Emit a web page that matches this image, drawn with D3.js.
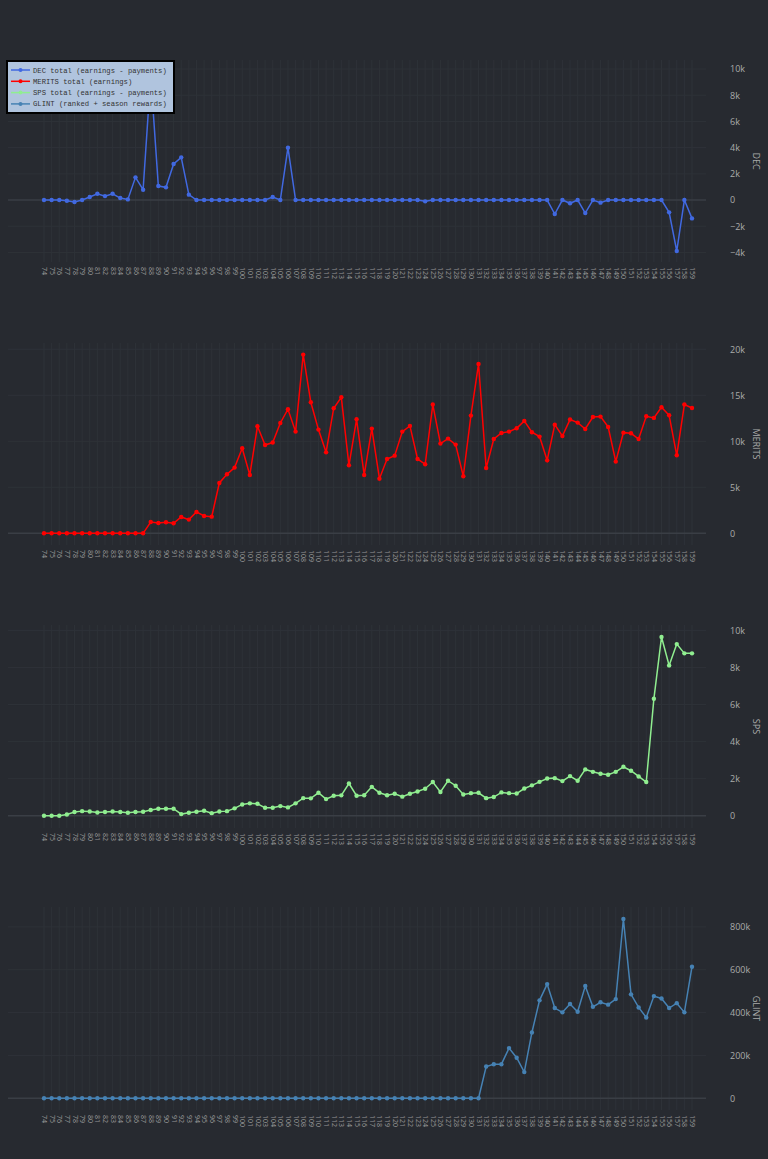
<html>
<head>
<script src="https://d3js.org/d3.v7.min.js"></script>
<style>
body { margin: 0; padding: 0; background: #272a30; }
svg { display: block; background: #272a30; }
.tick text { fill: #aaa; font-family: 'Open Sans', sans-serif; font-size: 9px; }
.xax .tick text { font-size: 7px; fill: #999; }
</style>
</head>
<body>
<script>
var seasons = d3.range(74, 160);

var decValues = [0,0,0,-50,-150,0,230,480,300,480,150,50,1730,790,9500,1070,970,2750,3260,410,
  0,0,0,0,0,0,0,0,0,0,230,0,4000,0,0,0,0,0,0,0,
  0,0,0,0,0,0,0,0,0,0,-100,0,0,0,0,0,0,0,0,0,
  0,0,0,0,0,0,0,-1070,0,-250,0,-990,0,-200,0,0,0,0,0,0,
  0,0,-940,-3890,0,-1400];

var meritsValues = [0,0,0,0,0,0,0,0,0,0,0,0,0,0,1230,1120,1200,1090,1780,1490,
  2320,1880,1810,5470,6410,7140,9240,6340,11630,9600,9860,11990,13480,11050,19420,14240,11270,8800,13590,14780,
  7390,12390,6340,11380,5940,8080,8440,11050,11670,8080,7500,13990,9750,10290,9640,6200,12790,18400,7100,10250,
  10900,11050,11410,12210,10980,10510,7930,11810,10580,12360,12030,11340,12640,12680,11560,7790,10940,10870,10250,12720,
  12540,13700,12830,8480,13990,13620];

var spsValues = [0,0,0,70,200,250,230,180,200,230,200,160,200,220,310,380,380,380,90,160,
  220,270,140,230,250,400,610,670,650,430,430,520,450,670,950,940,1240,900,1080,1100,
  1740,1080,1110,1560,1240,1110,1190,1030,1190,1310,1460,1820,1280,1890,1620,1150,1220,1240,950,1010,
  1260,1220,1200,1470,1640,1830,2010,2030,1870,2140,1890,2500,2370,2270,2210,2370,2640,2430,2120,1820,
  6310,9640,8110,9260,8760,8760];

var glintValues = d3.range(74, 132).map(function () { return 0; }).concat([
  148000,159000,159000,234000,189000,122000,307000,457000,533000,421000,401000,440000,404000,524000,
  427000,448000,437000,463000,837000,485000,424000,377000,477000,466000,421000,444000,401000,614000]);

var panels = [
  { name: "DEC", label: "DEC total (earnings - payments)", values: decValues, color: "#4169e1",
    top: 60, bottom: 262, domain: [-4730, 10690], ticks: [-4000,-2000,0,2000,4000,6000,8000,10000] },
  { name: "MERITS", label: "MERITS  total (earnings)", values: meritsValues, color: "#ff0000",
    top: 343, bottom: 545, domain: [-1270, 20680], ticks: [0,5000,10000,15000,20000] },
  { name: "SPS", label: "SPS total (earnings - payments)", values: spsValues, color: "#90ee90",
    top: 625, bottom: 828, domain: [-660, 10290], ticks: [0,2000,4000,6000,8000,10000] },
  { name: "GLINT", label: "GLINT (ranked + season rewards)", values: glintValues, color: "#4682b4",
    top: 907, bottom: 1110, domain: [-55000, 893000], ticks: [0,200000,400000,600000,800000] }
];

var width = 768, height = 1159;
var svg = d3.select("body").append("svg").attr("width", width).attr("height", height);

var x = d3.scalePoint().domain(seasons).range([44, 692]);
var fmt = function (d) { return d === 0 ? "0" : d3.format("~s")(d).replace("−", "\u2212"); };

panels.forEach(function (p) {
  var y = d3.scaleLinear().domain(p.domain).range([p.bottom, p.top]);
  var g = svg.append("g");

  // vertical grid
  g.selectAll("line.vg").data(seasons).enter().append("line")
    .attr("x1", function (d) { return x(d); }).attr("x2", function (d) { return x(d); })
    .attr("y1", p.top).attr("y2", p.bottom)
    .attr("stroke", "#2e3238").attr("stroke-width", 1);

  // horizontal grid
  g.selectAll("line.hg").data(p.ticks).enter().append("line")
    .attr("x1", 8).attr("x2", 706)
    .attr("y1", function (d) { return y(d); }).attr("y2", function (d) { return y(d); })
    .attr("stroke", function (d) { return d === 0 ? "#3a3e45" : "#2e3238"; })
    .attr("stroke-width", function (d) { return d === 0 ? 1.5 : 1; });

  // y axis on the right
  var yAxis = svg.append("g").attr("transform", "translate(728,0)")
    .call(d3.axisRight(y).tickValues(p.ticks).tickSize(0).tickPadding(2).tickFormat(fmt));
  yAxis.select(".domain").remove();

  svg.append("text")
    .attr("transform", "translate(753," + ((p.top + p.bottom) / 2) + ") rotate(90)")
    .attr("text-anchor", "middle")
    .attr("fill", "#aaa").style("font-family", "'Open Sans', sans-serif").style("font-size", "9px")
    .text(p.name);

  // x axis, rotated labels
  var xAxis = svg.append("g").attr("class", "xax").attr("transform", "translate(0," + (p.bottom + 2) + ")")
    .call(d3.axisBottom(x).tickSize(0).tickPadding(0));
  xAxis.select(".domain").remove();
  xAxis.selectAll("text")
    .attr("transform", "rotate(90)")
    .attr("x", 3).attr("y", 0).attr("dy", "0.35em")
    .style("text-anchor", "start");

  var line = d3.line()
    .x(function (d, i) { return x(seasons[i]); })
    .y(function (d) { return y(d); });

  g.append("path").datum(p.values)
    .attr("d", line).attr("fill", "none")
    .attr("stroke", p.color).attr("stroke-width", 1.5);

  g.selectAll("circle").data(p.values).enter().append("circle")
    .attr("cx", function (d, i) { return x(seasons[i]); })
    .attr("cy", function (d) { return y(d); })
    .attr("r", 2.2).attr("fill", p.color);
});

// legend
var lg = svg.append("g").attr("transform", "translate(7,61)");
lg.append("rect").attr("width", 167).attr("height", 52)
  .attr("fill", "#b0c4de").attr("stroke", "#000").attr("stroke-width", 2);
panels.forEach(function (p, i) {
  var yy = 9 + i * 11.3;
  lg.append("line").attr("x1", 4).attr("x2", 23).attr("y1", yy).attr("y2", yy)
    .attr("stroke", p.color).attr("stroke-width", 1.5);
  lg.append("circle").attr("cx", 13.5).attr("cy", yy).attr("r", 2).attr("fill", p.color);
  lg.append("text").attr("x", 26).attr("y", yy).attr("dy", "0.35em")
    .attr("fill", "#333").style("font-family", "'Liberation Mono', monospace").style("font-size", "7.2px")
    .text(p.label);
});
</script>
</body>
</html>
